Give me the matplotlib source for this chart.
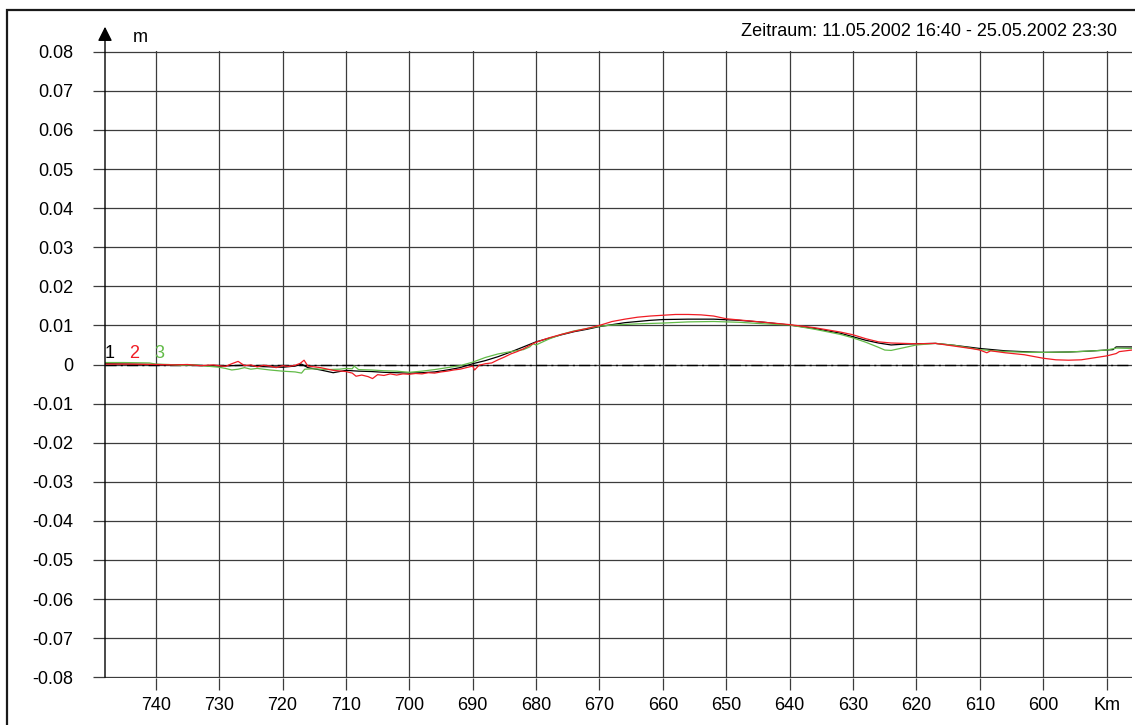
import matplotlib
matplotlib.use("Agg")
import matplotlib.pyplot as plt
from matplotlib.patches import Rectangle

plt.rcParams['font.family'] = ['Liberation Sans', 'DejaVu Sans']
plt.rcParams['axes.unicode_minus'] = False

# Wasserspiegel-Differenzen entlang der Strecke (km, m)
km_1 = [748, 744, 740, 736, 732, 730, 728, 726, 724, 722, 720, 718, 717, 716, 714, 712,
        710, 708, 706, 704, 702, 700, 698, 696, 694, 692, 690, 688, 686, 684, 682, 680,
        678, 676, 674, 672, 670, 668, 666, 664, 662, 660, 656, 652, 648, 644, 640, 636,
        632, 630, 628, 626, 624, 622, 620, 617, 614, 610, 606, 602, 600, 596, 593, 590,
        589, 588.5, 586]
dh_1 = [0.0002, 0.0001, 0.0000, -0.0001, -0.0003, -0.0004, -0.0003, -0.0002, -0.0005, -0.0006,
        -0.0007, -0.0004, 0.0001, -0.0008, -0.0014, -0.0021, -0.0015, -0.0017, -0.0018, -0.0020,
        -0.0021, -0.0022, -0.0021, -0.0019, -0.0014, -0.0008, 0.0002, 0.0010, 0.0020, 0.0032,
        0.0045, 0.0058, 0.0067, 0.0076, 0.0084, 0.0090, 0.0097, 0.0102, 0.0107, 0.0110,
        0.0113, 0.0115, 0.0116, 0.0116, 0.0113, 0.0108, 0.0101, 0.0092, 0.0080, 0.0071,
        0.0062, 0.0055, 0.0050, 0.0052, 0.0053, 0.0054, 0.0049, 0.0041, 0.0035, 0.0032,
        0.0031, 0.0032, 0.0034, 0.0037, 0.0038, 0.0045, 0.0045]

km_2 = [748, 744, 740, 737, 735, 733, 731, 729, 728, 727, 726, 725, 724, 723, 722, 721,
        720, 719, 718, 717.2, 716.6, 716, 714, 712, 710, 709, 708.4, 707.5, 706.5, 705.8,
        705, 704, 703, 702, 701, 700, 699, 698, 697, 696, 695, 694, 693, 692, 691, 690,
        689.7, 689, 688, 687, 686, 685, 684, 683, 682, 681, 680, 678, 676, 674, 672, 670,
        668, 666, 664, 662, 660, 658, 656, 654, 652, 650, 648, 644, 640, 636, 632, 630,
        628, 626, 624, 622, 620, 617, 614, 611, 610, 608.9, 608.3, 606, 603, 600, 598, 596,
        594, 592, 590, 588.5, 588, 586]
dh_2 = [0.0001, 0.0001, 0.0000, -0.0001, 0.0000, -0.0003, -0.0001, -0.0005, 0.0002, 0.0008,
        -0.0003, -0.0001, -0.0006, -0.0002, -0.0004, -0.0008, -0.0003, -0.0005, -0.0002, 0.0003,
        0.0011, -0.0004, -0.0008, -0.0015, -0.0018, -0.0022, -0.0030, -0.0027, -0.0031, -0.0036,
        -0.0026, -0.0028, -0.0024, -0.0027, -0.0024, -0.0025, -0.0023, -0.0024, -0.0021, -0.0022,
        -0.0019, -0.0017, -0.0014, -0.0012, -0.0008, -0.0004, -0.0014, -0.0002, 0.0002, 0.0004,
        0.0012, 0.0019, 0.0027, 0.0033, 0.0040, 0.0049, 0.0057, 0.0068, 0.0077, 0.0085,
        0.0092, 0.0100, 0.0110, 0.0116, 0.0121, 0.0124, 0.0126, 0.0128, 0.0128, 0.0127,
        0.0124, 0.0117, 0.0114, 0.0108, 0.0102, 0.0094, 0.0083, 0.0076, 0.0066, 0.0058,
        0.0055, 0.0054, 0.0053, 0.0054, 0.0047, 0.0040, 0.0037, 0.0030, 0.0035, 0.0030,
        0.0025, 0.0016, 0.0012, 0.0011, 0.0012, 0.0017, 0.0022, 0.0028, 0.0033, 0.0037]

km_3 = [748, 745, 741, 740, 738, 736, 734, 732, 730, 729, 728, 727, 726, 725, 724, 722,
        720, 718, 717, 716.5, 715, 713, 711, 710, 709, 708.7, 708, 706, 704, 702, 700,
        698, 696, 694, 692, 690, 689, 688, 686, 684, 682, 681, 680.5, 680, 678, 676, 674,
        672, 670, 668, 664, 660, 656, 652, 648, 644, 640, 636, 632, 630, 628, 626, 625,
        624, 622, 620, 617, 614, 610, 606, 602, 600, 596, 592, 590, 588.5, 586]
dh_3 = [0.0005, 0.0005, 0.0004, 0.0001, 0.0000, -0.0002, -0.0001, -0.0004, -0.0007, -0.0010,
        -0.0014, -0.0012, -0.0008, -0.0012, -0.0010, -0.0014, -0.0017, -0.0019, -0.0022, -0.0012,
        -0.0011, -0.0013, -0.0012, -0.0010, -0.0011, -0.0004, -0.0013, -0.0014, -0.0016, -0.0017,
        -0.0020, -0.0017, -0.0013, -0.0008, -0.0003, 0.0006, 0.0012, 0.0018, 0.0027, 0.0033,
        0.0038, 0.0045, 0.0053, 0.0050, 0.0065, 0.0077, 0.0086, 0.0092, 0.0098, 0.0101,
        0.0104, 0.0106, 0.0109, 0.0110, 0.0108, 0.0104, 0.0101, 0.0090, 0.0077, 0.0068,
        0.0057, 0.0044, 0.0037, 0.0036, 0.0043, 0.0050, 0.0054, 0.0049, 0.0038, 0.0033,
        0.0031, 0.0031, 0.0032, 0.0035, 0.0037, 0.0042, 0.0041]

x_ticks = [740, 730, 720, 710, 700, 690, 680, 670, 660, 650, 640, 630, 620, 610, 600, 590]
x_labels = ['740', '730', '720', '710', '700', '690', '680', '670', '660', '650', '640',
            '630', '620', '610', '600', 'Km']
y_ticks = [0.08, 0.07, 0.06, 0.05, 0.04, 0.03, 0.02, 0.01, 0, -0.01, -0.02, -0.03,
           -0.04, -0.05, -0.06, -0.07, -0.08]
y_labels = ['0.08', '0.07', '0.06', '0.05', '0.04', '0.03', '0.02', '0.01', '0', '-0.01',
            '-0.02', '-0.03', '-0.04', '-0.05', '-0.06', '-0.07', '-0.08']

c_black = '#000000'
c_red = '#f01c24'
c_green = '#62bb48'
grid_c = '#3c3c3c'

W, H = 1135, 725
fig = plt.figure(figsize=(W / 100, H / 100), dpi=100)
ax = fig.add_axes([105 / W, (H - 678) / H, 1027 / W, 627 / H])

# outer frame
fig.patches.append(Rectangle((7 / W, -0.05), 1.1, (H - 10) / H + 0.05,
                             transform=fig.transFigure, fill=False,
                             lw=1.6, ec='#1a1a1a'))

ax.set_xlim(748, 586)
ax.set_ylim(-0.0802, 0.0802)
for s in ax.spines.values():
    s.set_visible(False)

ax.set_xticks(x_ticks)
ax.set_xticklabels(x_labels)
ax.set_yticks(y_ticks)
ax.set_yticklabels(y_labels)
ax.tick_params(axis='both', direction='out', length=12 * 0.72, width=0.9,
               color=grid_c, labelsize=13)
ax.tick_params(axis='y', pad=14)
ax.tick_params(axis='x', pad=5)
ax.grid(True, color=grid_c, lw=0.9)
ax.set_axisbelow(True)

# y axis with arrow
ax.annotate('', xy=(748, 0.0864), xytext=(748, -0.08), xycoords='data',
            annotation_clip=False,
            arrowprops=dict(arrowstyle='-|>,head_length=0.86,head_width=0.43',
                            color='black', lw=1.0, shrinkA=0, shrinkB=0))

ax.axhline(0, color='black', lw=1.0, dashes=[8, 3, 1.5, 3])

ax.plot(km_1, dh_1, color=c_black, lw=0.9)
ax.plot(km_3, dh_3, color=c_green, lw=0.9)
ax.plot(km_2, dh_2, color=c_red, lw=0.9)

ax.text(747.2, 0.0027, '1', color=c_black, fontsize=13, ha='center', va='center')
ax.text(743.4, 0.0027, '2', color=c_red, fontsize=13, ha='center', va='center')
ax.text(739.4, 0.0027, '3', color=c_green, fontsize=13, ha='center', va='center')

fig.text(140 / W, 1 - 37 / H, 'm', fontsize=13, ha='center', va='center')
fig.text(1117 / W, 1 - 31 / H, 'Zeitraum: 11.05.2002 16:40 - 25.05.2002 23:30',
         fontsize=13, ha='right', va='center')

fig.savefig('out.png', dpi=100)
